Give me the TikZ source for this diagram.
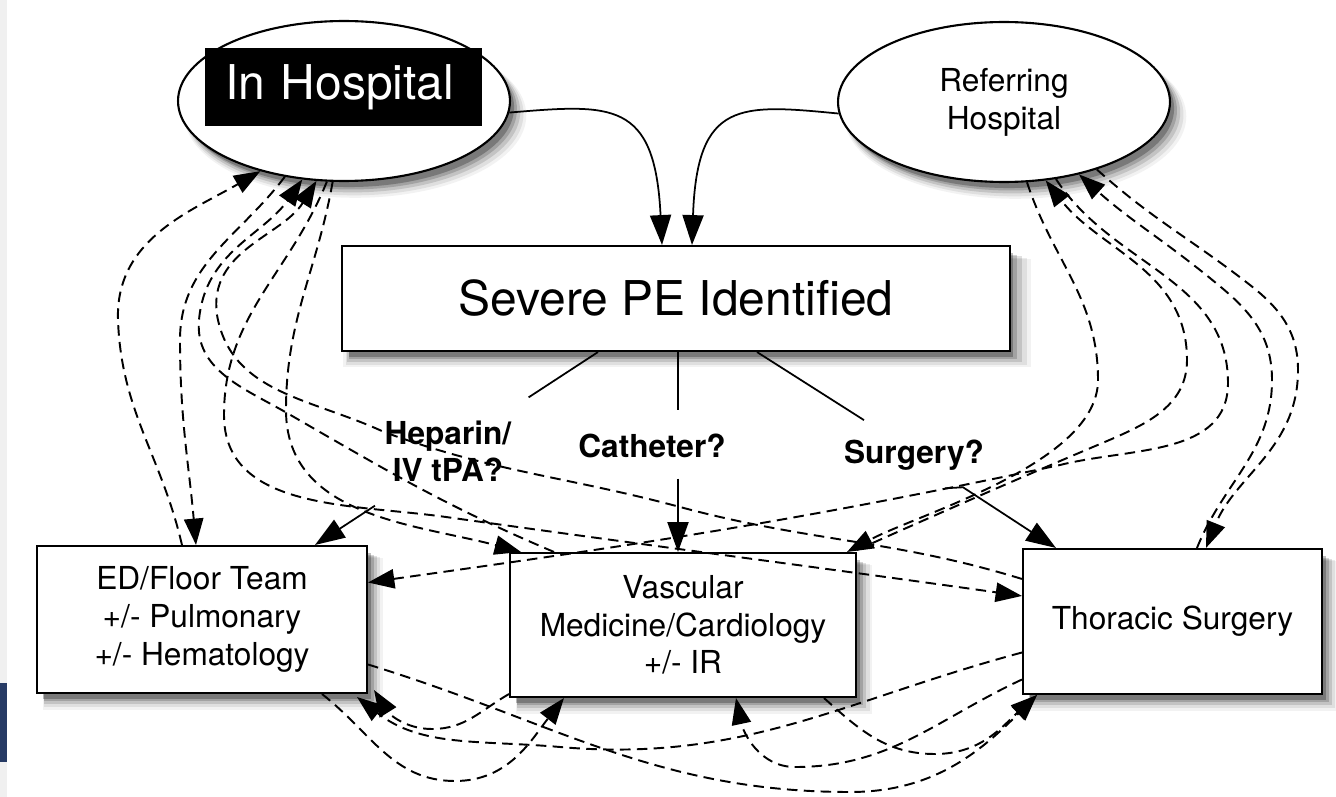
\documentclass[tikz,border=0pt]{standalone}
\usepackage{fontspec}
\setmainfont{TeX Gyre Heros}
\usetikzlibrary{shapes.geometric,arrows.meta,calc,shadows}
\definecolor{edgeblue}{RGB}{38,58,100}
\newcommand{\boxfnt}{\fontsize{18}{21.5}\selectfont}
\newcommand{\bigfnt}{\fontsize{27.3}{32}\selectfont}
\newcommand{\labfnt}{\fontsize{18}{21}\selectfont\bfseries}
\tikzset{
  softshadow/.style={
    general shadow={shadow xshift=0.22cm, shadow yshift=-0.28cm, shadow scale=1.03, fill=black, opacity=0.05},
    general shadow={shadow xshift=0.2cm, shadow yshift=-0.25cm, shadow scale=1.02, fill=black, opacity=0.08},
    general shadow={shadow xshift=0.17cm, shadow yshift=-0.21cm, shadow scale=1.01, fill=black, opacity=0.12},
    general shadow={shadow xshift=0.14cm, shadow yshift=-0.17cm, shadow scale=1.0, fill=black, opacity=0.17},
    general shadow={shadow xshift=0.1cm, shadow yshift=-0.13cm, shadow scale=0.995, fill=black, opacity=0.25}},
  box/.style={draw, line width=1.2pt, fill=white, softshadow, align=center, font=\boxfnt, inner sep=0pt},
  ell/.style={ellipse, draw, line width=1.2pt, fill=white, softshadow, inner sep=0pt,
    minimum width=6.64cm, minimum height=3.2cm, align=center, font=\boxfnt},
  lab/.style={font=\labfnt, inner sep=0pt, align=center},
  dl/.style={line width=1.1pt, dash pattern=on 6pt off 3.6pt, -{Triangle[length=15pt,width=11pt]}},
  sl/.style={line width=1pt},
  sa/.style={line width=1pt, -{Triangle[length=17pt,width=12pt]}}
}
\begin{document}
\begin{tikzpicture}[x=0.02cm,y=-0.02cm]
\useasboundingbox (0,0) rectangle (1336,797);
\fill[white] (0,0) rectangle (1336,797);
\fill[gray!12] (0,0) rectangle (7,797);
\fill[edgeblue] (0,683) rectangle (7,762);

% nodes
\node[ell] (ih) at (344,101) {};
\node[fill=black, text=white, font=\bigfnt, text width=4.74cm, align=left,
      inner xsep=0.4cm, inner ysep=0pt, minimum height=1.56cm] (ihlab) at (343.5,87) {In Hospital};
\node[ell] (ref) at (1004,102) {Referring\\Hospital};
\node[box, font=\bigfnt, minimum width=13.36cm, minimum height=2.1cm] (pe) at (676,298.5) {Severe PE Identified};
\node[box, minimum width=6.6cm, minimum height=2.94cm] (ed) at (202,619.5) {ED/Floor Team\\+/- Pulmonary\\+/- Hematology};
\node[box, minimum width=6.92cm, minimum height=2.88cm] (vas) at (683,625) {Vascular\\Medicine/Cardiology\\+/- IR};
\node[box, minimum width=5.98cm, minimum height=2.9cm] (tho) at (1172.5,621.5) {Thoracic Surgery};

\node[lab] (hep) at (448,451) {Heparin/\\IV tPA?};
\node[lab, anchor=base] (cath) at (652,457) {Catheter?};
\node[lab, anchor=base] (surg) at (914,463) {Surgery?};

% solid connectors
\draw[sa] (ih.-4) .. controls (612,104) and (655,100) .. ($(pe.north)+(-14,0)$);
\draw[sa] (ref.184) .. controls (740,104) and (697,100) .. ($(pe.north)+(16,0)$);
\draw[sl] ($(pe.south)+(-78,0)$) -- ($(hep.north east)+(17,-23)$);
\draw[sa] ($(hep.south)+(-73,24)$) -- ($(ed.north west)+(279,0)$);
\draw[sl] ($(pe.south)+(2,0)$) -- ($(cath.north)+(26,-23)$);
\draw[sa] ($(cath.south)+(26,21)$) -- ($(vas.north)+(-5,0)$);
\draw[sl] ($(pe.south)+(81,0)$) -- ($(surg.north)+(-50,-19)$);
\draw[sa] ($(surg.south)+(31,18)$) -- ($(surg.south)+(49,17)$) -- ($(tho.north west)+(34,0)$);

% In Hospital group
\draw[dl] ($(ed.north west)+(146,0)$) to[out=103,in=-88] (118,320) to[out=92,in=210] (ih.220);
\draw[dl] (ih.232) to[out=233,in=90] (180,340) to[out=-90,in=95] ($(ed.north west)+(160,0)$);
\draw[dl] ($(vas.north west)+(45,0)$) to[out=157,in=-30] (287,413) to[out=150,in=-95] (199,320) to[out=85,in=235] (ih.242);
\draw[dl] (ih.262) to[out=-100,in=90] (286,410) to[out=-90,in=165] ($(vas.north west)+(12,0)$);
\draw[dl] ($(tho.north west)+(0,31)$) to[out=163,in=-15] (680,507) to[out=165,in=-20] (384,432) to[out=155,in=-80] (217,315) to[out=98,in=238] (ih.251);
\draw[dl] (ih.258) to[out=-112,in=90] (224,415) to[out=-90,in=172] (446,517) to[out=-8,in=172] ($(tho.north west)+(0,48)$);

% Referring group
\draw[dl] (ref.286) to[out=-72,in=90] (1098,380) to[out=-90,in=28,looseness=0.7] ($(vas.north east)+(-10,0)$);
\draw[dl] ($(vas.north east)+(0,-2)$) to[out=24,in=203] (1100,444) to[out=23,in=-90] (1187,360) to[out=90,in=-52] (ref.298);
\draw[dl] (ref.304) to[out=-57,in=90] (1228,383) to[out=-90,in=14] (1060,465) to[out=192,in=8] ($(ed.east)+(0,-37)$);
\draw[dl] ($(tho.north west)+(175,0)$) to[out=68,in=-90] (1272,380) to[out=90,in=-40] (1222,288) to[out=140,in=-42] (ref.316);
\draw[dl] (ref.324) to[out=-42,in=142] (1250,285) to[out=-38,in=90] (1298,370) to[out=-90,in=68] ($(tho.north west)+(184,0)$);

% bottom group
\draw[dl] ($(ed.south east)+(-46,0)$) to[out=-38,in=180] (455,781) to[out=0,in=232] ($(vas.south west)+(55,0)$);
\draw[dl] ($(vas.south west)+(0,-4)$) to[out=210,in=0] (432,729) to[out=180,in=-58] ($(ed.south east)+(6,-4)$);
\draw[dl] ($(tho.west)+(0,31)$) to[out=195,in=-5] (560,747) to[out=175,in=-38] ($(ed.south east)+(-11,3)$);
\draw[dl] ($(tho.west)+(0,58)$) to[out=205,in=0] (795,767) to[out=180,in=-78] ($(vas.south west)+(227,0)$);
\draw[dl] ($(vas.south east)+(-33,0)$) to[out=-42,in=180] (935,754) to[out=0,in=222] ($(tho.south west)+(15,0)$);
\draw[dl] ($(ed.east)+(0,45)$) to[out=-17,in=180] (850,792) to[out=0,in=225] ($(tho.south west)+(15,0)$);
\end{tikzpicture}
\end{document}
